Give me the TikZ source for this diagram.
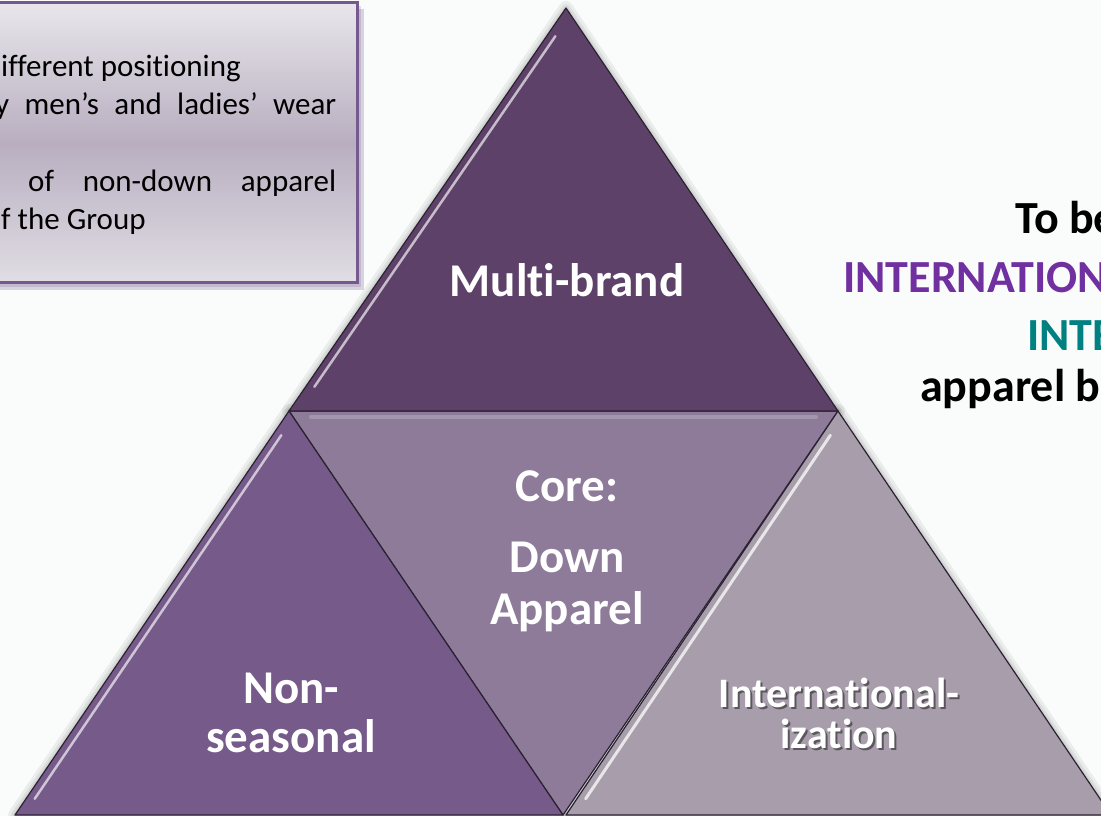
\documentclass[tikz,border=0pt]{standalone}
\usepackage{fontspec}
\setmainfont{Carlito}[Ligatures=NoCommon]
\usetikzlibrary{calc}

\definecolor{bgc}{HTML}{FAFCFC}
\definecolor{topc}{HTML}{5D4169}
\definecolor{leftc}{HTML}{765A8A}
\definecolor{midc}{HTML}{8D7B99}
\definecolor{rightc}{HTML}{A79DAB}
\definecolor{edgec}{HTML}{2B2231}
\definecolor{boxborder}{HTML}{76598E}
\definecolor{boxtop}{HTML}{E8E6EB}
\definecolor{boxmid}{HTML}{B8AEC0}
\definecolor{boxbot}{HTML}{E0DDE4}
\definecolor{intlpurple}{HTML}{7030A0}
\definecolor{intlteal}{HTML}{008080}

\tikzset{
  facet/.style={fill=#1, draw=edgec, line width=1.2pt, line join=round},
  halo/.style={draw=black, line width=#1, opacity=0.06, line join=round},
  gloss/.style={draw=white, line width=2.5pt, opacity=0.65, line cap=round},
  tritext/.style={text=white, font=\bfseries\fontsize{47}{47}\selectfont, inner sep=0pt, anchor=base},
  smalltri/.style={font=\bfseries\fontsize{42}{42}\selectfont, inner sep=0pt, anchor=base},
  boxline/.style={font=\fontsize{31}{31}\selectfont, text=black, inner sep=0pt, anchor=base west},
  goal/.style={font=\bfseries\fontsize{46}{46}\selectfont, inner sep=0pt, anchor=base west}
}

\begin{document}
\begin{tikzpicture}[x=1pt, y=-1pt]
  \path[use as bounding box] (0,0) rectangle (1101,816);
  \fill[bgc] (0,0) rectangle (1101,816);

  % corner points of the four facets
  \coordinate (apex) at (566,8);
  \coordinate (ml)   at (289,411);
  \coordinate (mr)   at (838,411);
  \coordinate (bl)   at (15,815);
  \coordinate (bm)   at (563,815);
  \coordinate (bmr)  at (566,815);
  \coordinate (br)   at (1111,815);

  % text panel with soft shadow
  \fill[boxborder, opacity=0.25] (-12,9) rectangle (364,290);
  \fill[boxborder, opacity=0.2] (-12,6) rectangle (361,287);
  \shade[top color=boxtop, bottom color=boxbot, middle color=boxmid]
    (-12,3) rectangle (357,282);
  \draw[boxborder, line width=3pt] (-12,3) rectangle (357,282);

  \node[boxline] (l1) at (1,77) {ifferent positioning};
  \node[boxline] (l2) at (-5,114) {\makebox[341pt][s]{y men’s and ladies’ wear}};
  \node[boxline] (l4) at (28,191) {\makebox[308pt][s]{of non-down apparel}};
  \node[boxline] (l5) at (1,229) {f the Group};

  % soft halos behind the facets
  \foreach \w in {14pt,8pt,4pt}{
    \draw[halo=\w] (apex) -- (ml) -- (mr) -- cycle;
    \draw[halo=\w] (ml) -- (bl) -- (bm) -- cycle;
    \draw[halo=\w] (mr) -- (bmr) -- (br) -- cycle;
  }

  % facets
  \draw[facet=midc] (ml) -- (mr) -- (bm) -- cycle;
  \draw[facet=leftc] (ml) -- (bl) -- (bm) -- cycle;
  \draw[facet=rightc] (mr) -- (bmr) -- (br) -- cycle;
  \draw[facet=topc] (apex) -- (ml) -- (mr) -- cycle;

  % glossy highlights along the edges
  \draw[gloss] ($(apex)!0.06!(ml)+(6,4)$) -- ($(apex)!0.93!(ml)+(6,4)$);
  \draw[gloss] ($(ml)!0.05!(bl)+(6,4)$) -- ($(ml)!0.95!(bl)+(6,4)$);
  \draw[gloss, line width=3pt, opacity=0.75] ($(mr)!0.05!(bmr)+(6,4)$) -- ($(mr)!0.95!(bmr)+(6,4)$);
  \draw[gloss, opacity=0.2, line width=4pt] ($(ml)!0.04!(mr)+(0,6)$) -- ($(ml)!0.96!(mr)+(0,6)$);

  % facet labels
  \node[tritext] (mb) at (567,296) {Multi-brand};
  \node[tritext] (core) at (567,501) {Core:};
  \node[tritext] (down) at (567,572) {Down};
  \node[tritext] (app) at (567,624) {Apparel};
  \node[tritext] (non) at (291,703) {Non-};
  \node[tritext] (seas) at (291,752) {seasonal};
  \node[smalltri, text=black, opacity=0.45] at (841,709) {International-};
  \node[smalltri, text=black, opacity=0.45] at (841,750) {ization};
  \node[smalltri, text=white] (intl) at (839,707) {International-};
  \node[smalltri, text=white] (iz) at (839,748) {ization};

  % goal statement on the right
  \node[goal, text=black] (g1) at (1015,233) {To be};
  \node[goal, text=intlpurple] (g2) at (843,292) {INTERNATION};
  \node[goal, text=intlteal] (g3) at (1027,350) {INTE};
  \node[goal, text=black] (g4) at (920,401) {apparel b};
\end{tikzpicture}
\end{document}
